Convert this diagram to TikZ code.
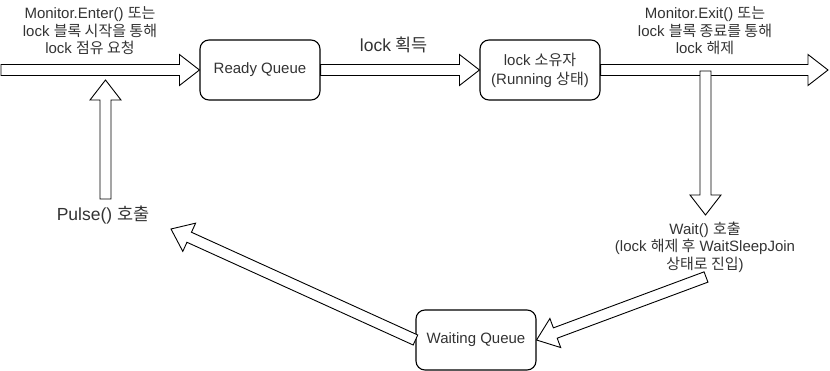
\documentclass[tikz,border=0pt]{standalone}
\usepackage{fontspec}
\setmainfont{Liberation Sans}
\newfontfamily\krfont{Noto Sans CJK KR}
\newcommand\kr[1]{{\krfont #1}}
\usetikzlibrary{calc}
\tikzset{
  box/.style={draw=black, line width=1.1pt, rounded corners=9pt, fill=white,
    minimum width=120pt, minimum height=60pt, inner sep=2pt, align=center,
    text=black!80, font=\fontsize{15}{19}\selectfont},
  lbl/.style={align=center, text=black!80, inner sep=1pt, font=\fontsize{15}{17.5}\selectfont},
  biglbl/.style={align=center, text=black!80, inner sep=1pt, font=\fontsize{17.5}{20}\selectfont},
  barrow/.style={draw=black, line width=0.9pt, fill=white, line join=miter}
}
\newcommand\blockarrow[2]{%
  \coordinate (ba-h) at ($(#2)!20pt!(#1)$);
  \draw[barrow] ($(#1)!5.5pt!90:(#2)$) -- ($(ba-h)!5.5pt!-90:(#1)$) -- ($(ba-h)!15.5pt!-90:(#1)$) -- (#2) -- ($(ba-h)!15.5pt!90:(#1)$) -- ($(ba-h)!5.5pt!90:(#1)$) -- ($(#1)!5.5pt!-90:(#2)$) -- cycle;}
\begin{document}
\begin{tikzpicture}[x=1pt, y=-1pt]
\useasboundingbox (0,0) rectangle (830,371);
% boxes
\node[box] (rq) at (260,70) {Ready Queue};
\node[box] (lo) at (540,70) {lock \kr{소유자}\\(Running \kr{상태})};
\node[box] (wq) at (476,340) {Waiting Queue};
% free ends
\coordinate (inl) at (1,70);
\coordinate (outr) at (828,70);
\coordinate (dtop) at (705.5,71);
\coordinate (dbot) at (705.5,215);
\coordinate (utop) at (105.5,80);
\coordinate (ubot) at (105.5,199);
\coordinate (wtail) at (706,277);
\coordinate (ptip) at (171,229);
% arrows
\blockarrow{inl}{rq.west}
\blockarrow{rq.east}{lo.west}
\blockarrow{lo.east}{outr}
\blockarrow{dtop}{dbot}
\blockarrow{ubot}{utop}
\blockarrow{wtail}{wq.east}
\blockarrow{wq.west}{ptip}
% labels
\node[lbl] (enterlbl) at (90,31) {Monitor.Enter() \kr{또는}\\lock \kr{블록 시작을 통해}\\lock \kr{점유 요청}};
\node[biglbl] (acq) at (394,45) {lock \kr{획득}};
\node[lbl] (exitlbl) at (705,31) {Monitor.Exit() \kr{또는}\\lock \kr{블록 종료를 통해}\\lock \kr{해제}};
\node[lbl] (waitlbl) at (705,247) {Wait() \kr{호출}\\(lock \kr{해제 후} WaitSleepJoin\\\kr{상태로 진입})};
\node[biglbl] (pulselbl) at (103,215) {Pulse() \kr{호출}};
\end{tikzpicture}
\end{document}
